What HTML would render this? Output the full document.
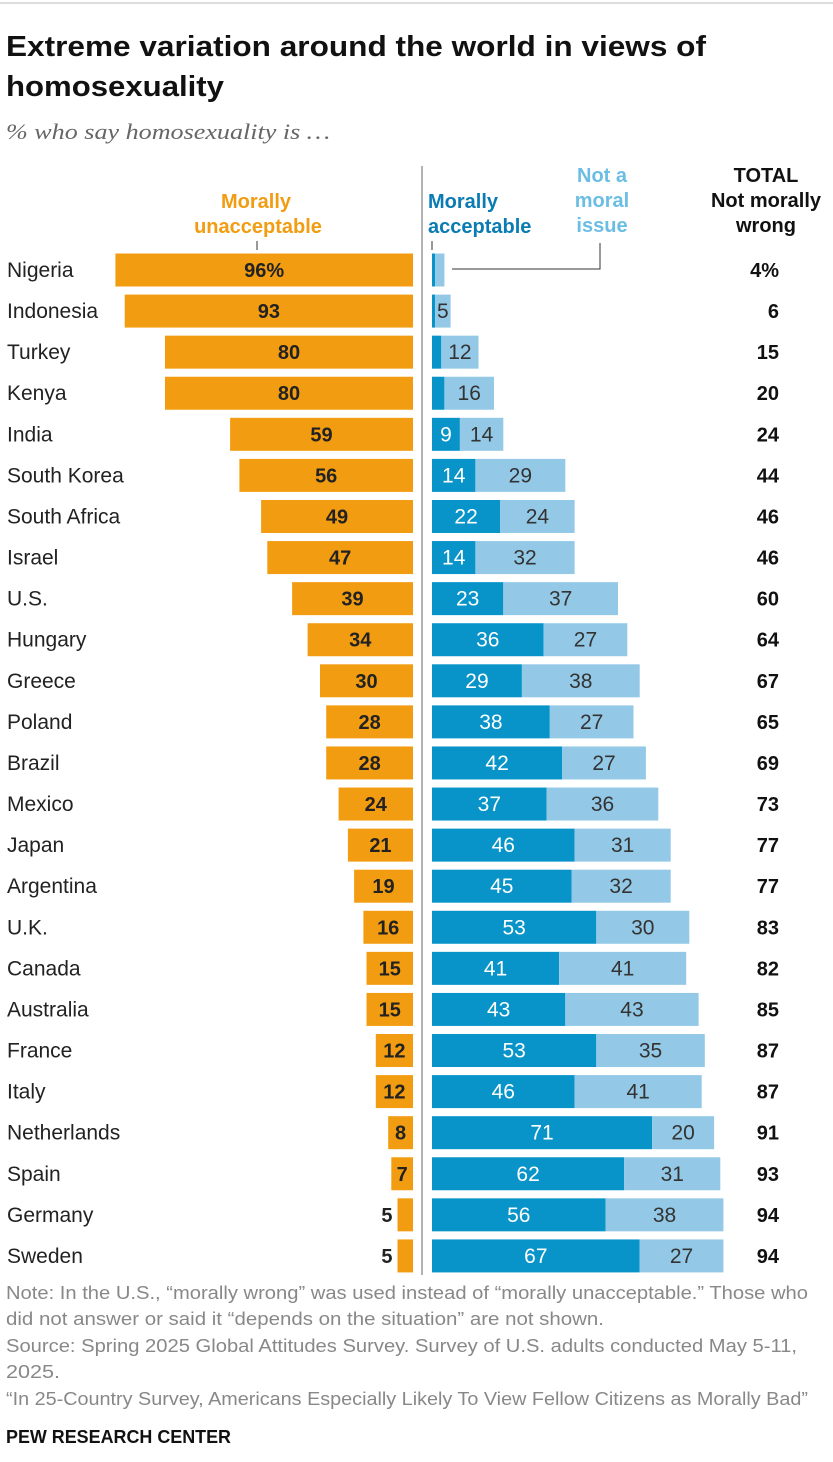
<!DOCTYPE html>
<html><head><meta charset="utf-8">
<style>
body{margin:0;background:#fff;width:833px;height:1457px;overflow:hidden;font-family:"Liberation Sans",sans-serif;}
svg text{font-family:"Liberation Sans",sans-serif;}
</style></head>
<body>
<svg width="833" height="1457">
<line x1="0" y1="3" x2="833" y2="3" stroke="#bbb" stroke-width="1"/>
<text x="6" y="56" font-size="29" font-weight="bold" fill="#111" textLength="700" lengthAdjust="spacingAndGlyphs">Extreme variation around the world in views of</text>
<text x="6" y="96" font-size="29" font-weight="bold" fill="#111" textLength="218" lengthAdjust="spacingAndGlyphs">homosexuality</text>
<text x="6" y="139" font-size="22" font-style="italic" fill="#666" textLength="324" lengthAdjust="spacingAndGlyphs" style="font-family:'Liberation Serif',serif">% who say homosexuality is …</text>
<text x="256" y="208" font-size="20" font-weight="bold" fill="#f29c11" text-anchor="middle"><tspan x="256">Morally</tspan><tspan x="258" dy="25">unacceptable</tspan></text>
<line x1="257" y1="241" x2="257" y2="250" stroke="#333"/>
<text x="428" y="208" font-size="20" font-weight="bold" fill="#0a7bb3"><tspan x="428">Morally</tspan><tspan x="428" dy="25">acceptable</tspan></text>
<line x1="432" y1="241" x2="432" y2="250" stroke="#333"/>
<text x="602" y="182" font-size="20" font-weight="bold" fill="#6cbde4" text-anchor="middle"><tspan x="602">Not a</tspan><tspan x="602" dy="25">moral</tspan><tspan x="602" dy="25">issue</tspan></text>
<polyline points="452,269 600,269 600,243" fill="none" stroke="#333"/>
<text x="766" y="182" font-size="20" font-weight="bold" fill="#111" text-anchor="middle"><tspan x="766">TOTAL</tspan><tspan x="766" dy="25">Not morally</tspan><tspan x="766" dy="25">wrong</tspan></text>
<line x1="422" y1="166" x2="422" y2="1275" stroke="#999" stroke-width="1.5"/>
<g id="bars"></g>
<g font-size="18" fill="#888">
<text x="6" y="1299" textLength="802" lengthAdjust="spacingAndGlyphs">Note: In the U.S., “morally wrong” was used instead of “morally unacceptable.” Those who</text>
<text x="6" y="1325" textLength="598" lengthAdjust="spacingAndGlyphs">did not answer or said it “depends on the situation” are not shown.</text>
<text x="6" y="1352" textLength="791" lengthAdjust="spacingAndGlyphs">Source: Spring 2025 Global Attitudes Survey. Survey of U.S. adults conducted May 5-11,</text>
<text x="6" y="1378" textLength="54" lengthAdjust="spacingAndGlyphs">2025.</text>
<text x="6" y="1405" textLength="802" lengthAdjust="spacingAndGlyphs">“In 25-Country Survey, Americans Especially Likely To View Fellow Citizens as Morally Bad”</text>
</g>
<text x="6" y="1443" font-size="18" font-weight="bold" fill="#111" textLength="225" lengthAdjust="spacingAndGlyphs">PEW RESEARCH CENTER</text>
</svg>
<script>
const countries=["Nigeria","Indonesia","Turkey","Kenya","India","South Korea","South Africa","Israel","U.S.","Hungary","Greece","Poland","Brazil","Mexico","Japan","Argentina","U.K.","Canada","Australia","France","Italy","Netherlands","Spain","Germany","Sweden"];
const unacceptable=[96,93,80,80,59,56,49,47,39,34,30,28,28,24,21,19,16,15,15,12,12,8,7,5,5];
const acceptable=[1,1,3,4,9,14,22,14,23,36,29,38,42,37,46,45,53,41,43,53,46,71,62,56,67];
const notMoral=[3,5,12,16,14,29,24,32,37,27,38,27,27,36,31,32,30,41,43,35,41,20,31,38,27];
const totals=[4,6,15,20,24,44,46,46,60,64,67,65,69,73,77,77,83,82,85,87,87,91,93,94,94];
const NS="http://www.w3.org/2000/svg";
const g=document.getElementById('bars');
const sx=v=>v*3.1;
const rowY=i=>270+i*41.08;
const L0=413,R0=432,BH=33;
function mk(tag,attrs,txt){const e=document.createElementNS(NS,tag);for(const k in attrs)e.setAttribute(k,attrs[k]);if(txt!==undefined)e.textContent=txt;g.appendChild(e);return e;}
countries.forEach((c,i)=>{
  const y=rowY(i);
  let e=mk('text',{x:7,y:y+7,'font-size':21,fill:'#222'},c);
  
  
  const w=sx(unacceptable[i]);
  e=mk('rect',{x:L0-w,y:y-BH/2,width:w,height:BH,fill:'#f29c11'});
  
  
  const lbl=unacceptable[i]+(i===0?'%':'');
  const inside=w>18;
  e=mk('text',{x:inside?L0-w/2:L0-w-5,y:y+7,'font-size':20,'font-weight':'bold',fill:'#222','text-anchor':inside?'middle':'end'},lbl);
  
  
  const wa=sx(acceptable[i]),wn=sx(notMoral[i]);
  e=mk('rect',{x:R0,y:y-BH/2,width:wa,height:BH,fill:'#0894c8'});
  
  
  e=mk('rect',{x:R0+wa,y:y-BH/2,width:wn,height:BH,fill:'#93c9e6'});
  
  
  if(acceptable[i]>=5){
    e=mk('text',{x:R0+wa/2,y:y+7,'font-size':21,fill:'#fff','text-anchor':'middle'},acceptable[i]);
    
    
  }
  if(notMoral[i]>=5){
    e=mk('text',{x:R0+wa+wn/2,y:y+7,'font-size':21,fill:'#333','text-anchor':'middle'},notMoral[i]);
    
    
  }
  e=mk('text',{x:779,y:y+7,'font-size':20,'font-weight':'bold',fill:'#111','text-anchor':'end'},totals[i]+(i===0?'%':''));
  
  
});
</script>
</body></html>
